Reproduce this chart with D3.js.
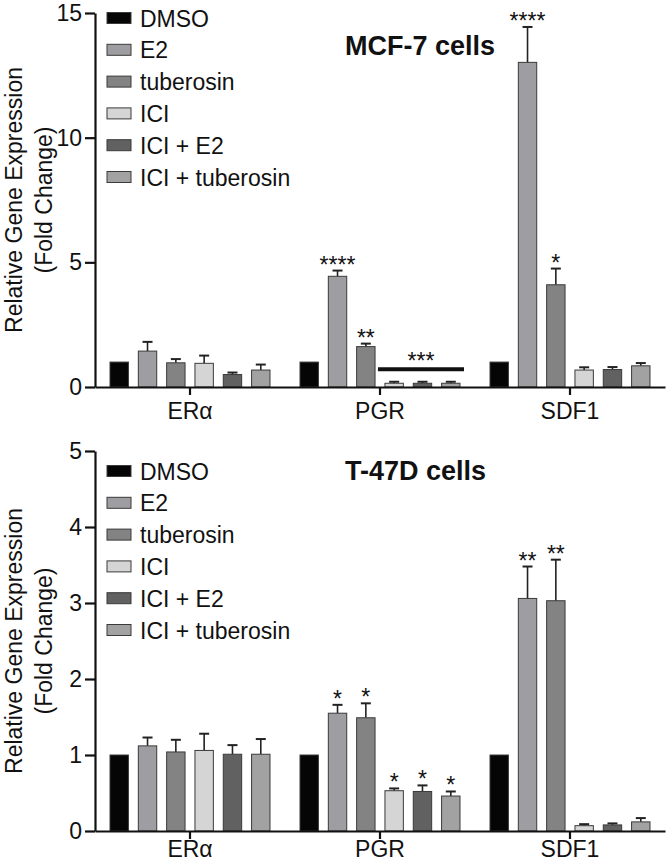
<!DOCTYPE html>
<html>
<head>
<meta charset="utf-8">
<script src="https://cdn.jsdelivr.net/npm/d3@7"></script>
<style>
  body { margin: 0; background: #fff; }
  svg text { font-family: "Liberation Sans", Arial, sans-serif; fill: #111; }
</style>
</head>
<body>
<div id="chart"></div>
<script>
// datos
const genes = ['ERα', 'PGR', 'SDF1'];
const treatments = ['DMSO', 'E2', 'tuberosin', 'ICI', 'ICI + E2', 'ICI + tuberosin'];

// MCF-7: media y error (solo barra superior), filas = genes
const mcf7Mean = [
  [1, 1.44, 0.97, 0.95, 0.50, 0.68],
  [1, 4.44, 1.62, 0.15, 0.15, 0.15],
  [1, 13.02, 4.10, 0.68, 0.70, 0.85]
];
const mcf7Err = [
  [0, 0.37, 0.15, 0.31, 0.08, 0.22],
  [0, 0.23, 0.12, 0.06, 0.06, 0.06],
  [0, 1.42, 0.65, 0.11, 0.10, 0.11]
];
const mcf7Stars = [[1, 1, '****'], [1, 2, '**'], [2, 1, '****'], [2, 2, '*']];
const mcf7Bracket = { gene: 1, from: 3, to: 5, value: 0.71, label: '***' };
const mcf7Ticks = [0, 5, 10, 15];

// T-47D
const t47dMean = [
  [1, 1.12, 1.04, 1.06, 1.01, 1.01],
  [1, 1.55, 1.49, 0.53, 0.52, 0.46],
  [1, 3.06, 3.03, 0.07, 0.08, 0.12]
];
const t47dErr = [
  [0, 0.11, 0.16, 0.22, 0.12, 0.20],
  [0, 0.11, 0.19, 0.03, 0.08, 0.06],
  [0, 0.42, 0.54, 0.02, 0.02, 0.05]
];
const t47dStars = [[1, 1, '*'], [1, 2, '*'], [1, 3, '*'], [1, 4, '*'], [1, 5, '*'], [2, 1, '**'], [2, 2, '**']];
const t47dTicks = [0, 1, 2, 3, 4, 5];

//Colores
const COLORS = ['#050505', '#9e9ea2', '#838383', '#d5d5d5', '#616161', '#a2a2a2'];
const STROKE = '#3a3a3a';

const W = 666, H = 863;
const svg = d3.select('#chart').append('svg')
  .attr('width', W).attr('height', H);

function drawPanel(opt) {
  const g = svg.append('g');

  let x0 = d3.scaleBand().domain(genes).range([95, 665]);
  let x1 = d3.scaleBand().domain(treatments)
    .range([0, x0.bandwidth()])
    .paddingInner(0.35).paddingOuter(0.53);
  let y = d3.scaleLinear().domain([0, opt.max]).range([opt.bottom, opt.top]);

  // barras
  let rows = [];
  genes.forEach((gene, gi) => {
    treatments.forEach((t, ti) => {
      rows.push({ gene: gene, t: t, ti: ti, v: opt.mean[gi][ti], e: opt.err[gi][ti] });
    });
  });

  let bx = d => x0(d.gene) + x1(d.t);

  // error bars (solo superior)
  let eb = g.append('g').selectAll('g')
    .data(rows.filter(d => d.e > 0))
    .enter().append('g');
  eb.append('line')
    .attr('x1', d => bx(d) + x1.bandwidth() / 2)
    .attr('x2', d => bx(d) + x1.bandwidth() / 2)
    .attr('y1', d => y(d.v))
    .attr('y2', d => y(d.v + d.e))
    .attr('stroke', '#222').attr('stroke-width', 1.6);
  eb.append('line')
    .attr('x1', d => bx(d) + x1.bandwidth() / 2 - 5)
    .attr('x2', d => bx(d) + x1.bandwidth() / 2 + 5)
    .attr('y1', d => y(d.v + d.e))
    .attr('y2', d => y(d.v + d.e))
    .attr('stroke', '#222').attr('stroke-width', 2);

  g.append('g').selectAll('rect')
    .data(rows)
    .enter().append('rect')
    .attr('x', d => bx(d))
    .attr('y', d => y(d.v))
    .attr('width', x1.bandwidth())
    .attr('height', d => y(0) - y(d.v))
    .attr('fill', d => COLORS[d.ti])
    .attr('stroke', STROKE)
    .attr('stroke-width', 1);

  // ejes
  let yAxis = g.append('g')
    .attr('transform', 'translate(95,0)')
    .call(d3.axisLeft(y).tickValues(opt.ticks).tickFormat(d3.format('d'))
      .tickSize(10).tickSizeOuter(0).tickPadding(3));
  yAxis.selectAll('text').style('font-size', '23px');

  let xAxis = g.append('g')
    .attr('transform', 'translate(0,' + opt.bottom + ')')
    .call(d3.axisBottom(x0).tickSize(8).tickSizeOuter(0).tickPadding(opt.xPad));
  xAxis.selectAll('text').style('font-size', '23px');

  g.selectAll('.domain, .tick line').attr('stroke', '#111').attr('stroke-width', 2.2);

  // estrellas
  g.append('g').selectAll('text')
    .data(opt.stars)
    .enter().append('text')
    .attr('x', d => x0(genes[d[0]]) + x1(treatments[d[1]]) + x1.bandwidth() / 2)
    .attr('y', d => y(opt.mean[d[0]][d[1]] + opt.err[d[0]][d[1]]) + 2)
    .attr('text-anchor', 'middle')
    .style('font-size', '23px')
    .text(d => d[2]);

  if (opt.bracket) {
    let b = opt.bracket;
    let xa = x0(genes[b.gene]) + x1(treatments[b.from]) - 7;
    let xb = x0(genes[b.gene]) + x1(treatments[b.to]) + x1.bandwidth() + 4;
    g.append('line')
      .attr('x1', xa).attr('x2', xb)
      .attr('y1', y(b.value)).attr('y2', y(b.value))
      .attr('stroke', '#111').attr('stroke-width', 4);
    g.append('text')
      .attr('x', (xa + xb) / 2)
      .attr('y', y(b.value))
      .attr('text-anchor', 'middle')
      .style('font-size', '23px')
      .text(b.label);
  }

  // leyenda
  let leg = g.append('g').selectAll('g')
    .data(treatments)
    .enter().append('g')
    .attr('transform', (d, i) => 'translate(107,' + (opt.legendTop + i * 31.8) + ')');
  leg.append('rect')
    .attr('x', 0).attr('y', -5.5)
    .attr('width', 24).attr('height', 11)
    .attr('fill', (d, i) => COLORS[i])
    .attr('stroke', STROKE).attr('stroke-width', 1);
  leg.append('text')
    .attr('x', 33).attr('y', 8.5)
    .style('font-size', '23px')
    .text(d => d);

  // titulo
  g.append('text')
    .attr('x', 345).attr('y', opt.titleY)
    .style('font-size', '27px').style('font-weight', 'bold')
    .text(opt.title);

  // etiqueta eje y
  let cy = (opt.top + opt.bottom) / 2;
  g.append('text')
    .attr('transform', 'translate(22,' + cy + ') rotate(-90)')
    .attr('text-anchor', 'middle')
    .style('font-size', '23px')
    .text('Relative Gene Expression');
  g.append('text')
    .attr('transform', 'translate(52,' + cy + ') rotate(-90)')
    .attr('text-anchor', 'middle')
    .style('font-size', '23px')
    .text('(Fold Change)');
}

drawPanel({
  mean: mcf7Mean, err: mcf7Err, stars: mcf7Stars, bracket: mcf7Bracket,
  ticks: mcf7Ticks, max: 15, top: 13, bottom: 387, xPad: 8,
  legendTop: 18, title: 'MCF-7 cells', titleY: 55
});

drawPanel({
  mean: t47dMean, err: t47dErr, stars: t47dStars, bracket: null,
  ticks: t47dTicks, max: 5, top: 451, bottom: 831, xPad: 2,
  legendTop: 471, title: 'T-47D cells', titleY: 480
});
</script>
</body>
</html>
